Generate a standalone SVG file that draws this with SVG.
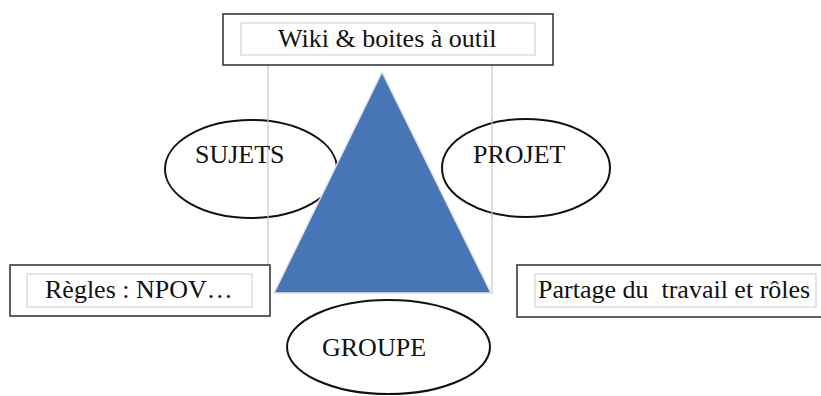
<svg xmlns="http://www.w3.org/2000/svg" width="821" height="396" viewBox="0 0 821 396">
<style>
text{font-family:"Liberation Serif","Times New Roman",serif;font-size:26px;fill:#111;}
.outer{fill:#fff;stroke:#3a3a3a;stroke-width:1.6;}
.inner{fill:#fff;stroke:#d4d4d4;stroke-width:1.2;}
.ell{fill:#fff;stroke:#111;stroke-width:2;}
.frame{stroke:#c8c8c8;stroke-width:1.2;fill:none;}
</style>
<rect width="821" height="396" fill="#fff"/>
<g id="frame">
<line class="frame" x1="268" y1="65" x2="268" y2="294"/>
<line class="frame" x1="492" y1="65" x2="492" y2="294"/>
</g>
<g id="sujets">
<ellipse class="ell" cx="251" cy="169" rx="86" ry="49"/>
<line class="frame" x1="268" y1="119" x2="268" y2="219"/>
<text x="195" y="163">SUJETS</text>
</g>
<g id="projet">
<ellipse class="ell" cx="526" cy="168" rx="84" ry="49"/>
<line class="frame" x1="492" y1="118" x2="492" y2="218"/>
<text x="473" y="163">PROJET</text>
</g>
<g id="triangle">
<polygon points="382,72 274,293 491,293" fill="#4676b6" stroke="#e2e2e2" stroke-width="1.5"/>
</g>
<g id="wiki">
<rect class="outer" x="223" y="14" width="330" height="51"/>
<rect class="inner" x="241" y="23" width="294" height="32"/>
<text x="278" y="47">Wiki &amp; boites à outil</text>
</g>
<g id="regles">
<rect class="outer" x="10" y="265" width="260" height="51"/>
<rect class="inner" x="27" y="274" width="225" height="33"/>
<text x="45" y="298">Règles : NPOV…</text>
</g>
<g id="partage">
<rect class="outer" x="517" y="265" width="320" height="52"/>
<rect class="inner" x="535" y="274" width="281" height="33"/>
<text x="538" y="298" xml:space="preserve">Partage du  travail et rôles</text>
</g>
<g id="groupe">
<ellipse class="ell" cx="388.5" cy="347" rx="101.5" ry="47"/>
<text x="322" y="356">GROUPE</text>
</g>
</svg>
